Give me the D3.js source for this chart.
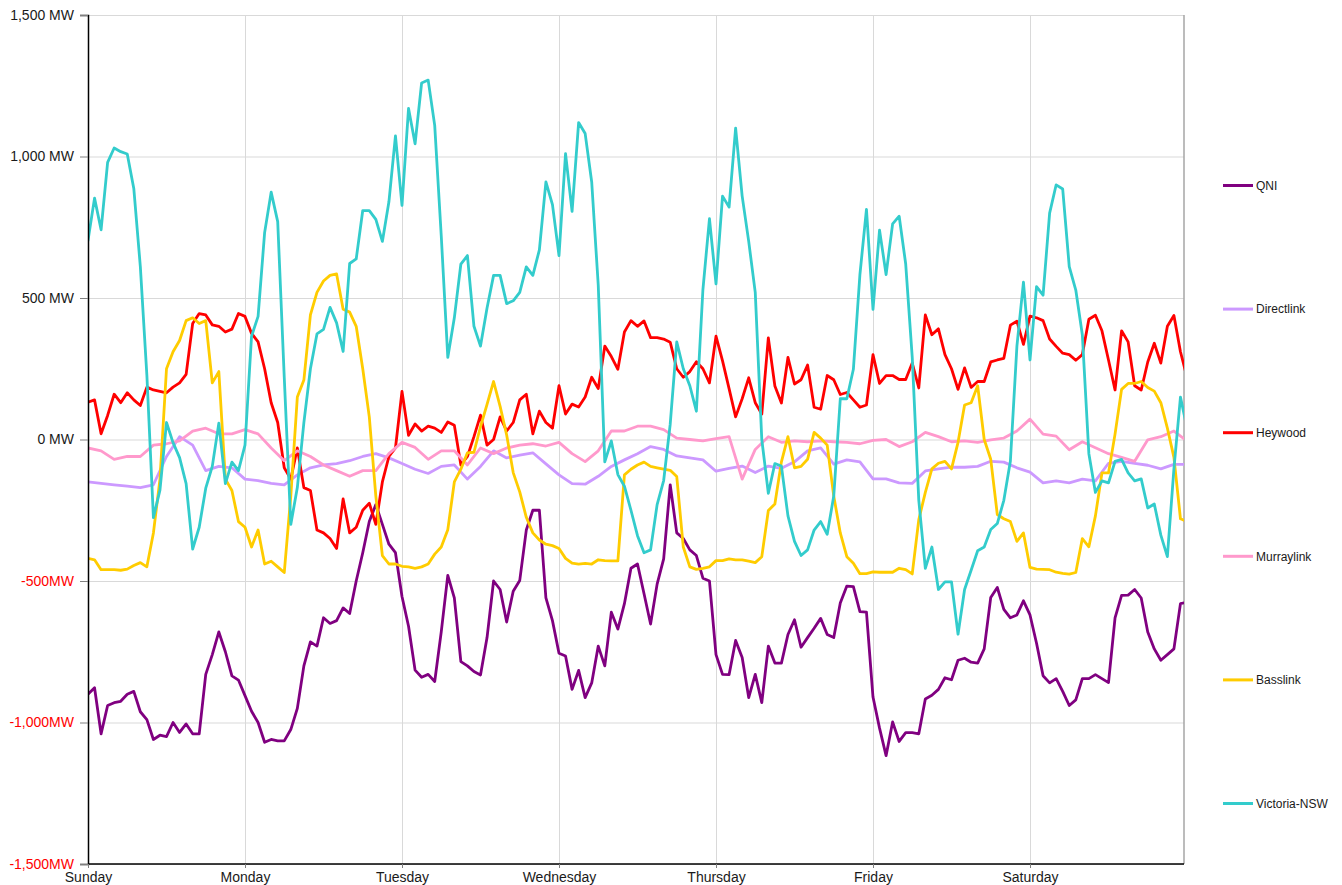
<!DOCTYPE html>
<html>
<head>
<meta charset="utf-8">
<title>Interconnector flows</title>
<script src="https://d3js.org/d3.v7.min.js"></script>
<style>
  body { margin: 0; background: #fff; }
  svg { font-family: "Liberation Sans", Arial, sans-serif; }
</style>
</head>
<body>
<svg id="chart" width="1342" height="885"></svg>
<script>
// day names, one tick every 24 hours
const days = ['Sunday', 'Monday', 'Tuesday', 'Wednesday', 'Thursday', 'Friday', 'Saturday'];
const yTicks = [-1500, -1000, -500, 0, 500, 1000, 1500];

// hourly values (MW), one row per day
const qni = [
  -900, -877, -1040, -940, -930, -925, -900, -890, -962, -990, -1060, -1045, -1050, -1000, -1035, -1005, -1040, -1040, -830, -760, -680, -750, -835, -850, -905,
  -960, -1000, -1070, -1060, -1065, -1065, -1025, -950, -800, -715, -730, -630, -650, -640, -595, -615, -500, -400, -290, -230, -300, -370, -400, -555,
  -660, -815, -840, -830, -855, -680, -480, -560, -785, -800, -820, -832, -700, -500, -530, -645, -536, -498, -320, -250, -250, -560, -640, -755,
  -765, -883, -816, -912, -860, -730, -800, -610, -670, -580, -455, -440, -545, -652, -511, -422, -160, -330, -350, -390, -410, -490, -500, -760,
  -830, -831, -710, -770, -912, -830, -930, -730, -790, -790, -689, -637, -734, -700, -667, -632, -689, -700, -578, -518, -520, -608, -610, -910,
  -1020, -1117, -998, -1067, -1036, -1036, -1040, -917, -904, -883, -842, -849, -780, -773, -787, -790, -740, -558, -523, -600, -630, -620, -570, -620,
  -720, -835, -860, -845, -890, -940, -920, -845, -845, -831, -845, -859, -630, -551, -550, -530, -560, -680, -740, -780, -760, -740, -580, -575
];

const heywood = [
  132, 140, 20, 85, 160, 130, 165, 140, 120, 185, 175, 170, 165, 185, 200, 230, 410, 445, 440, 405, 400, 380, 390, 445, 435,
  375, 345, 250, 130, 60, -100, -140, -30, -170, -180, -320, -330, -350, -385, -210, -330, -310, -250, -225, -300, -150, -60, -30, 170,
  15, 55, 30, 47, 40, 25, 62, 50, -90, -60, 10, 86, -20, 0, 80, 30, 60, 140, 160, 20, 100, 60, 40, 190,
  90, 125, 115, 150, 220, 180, 330, 293, 248, 380, 420, 400, 419, 360, 360, 355, 344, 250, 220, 240, 275, 250, 200, 365,
  278, 180, 80, 144, 218, 130, 90, 359, 189, 129, 290, 196, 211, 263, 114, 107, 226, 211, 159, 166, 140, 114, 122, 300,
  198, 226, 226, 212, 212, 270, 182, 440, 370, 391, 300, 250, 177, 253, 184, 205, 205, 274, 281, 287, 404, 418, 336, 436,
  430, 420, 355, 329, 305, 300, 280, 300, 425, 439, 384, 281, 175, 384, 345, 190, 175, 274, 340, 270, 400, 438, 310, 220
];

const vicNsw = [
  703, 853, 741, 979, 1030, 1017, 1009, 887, 611, 227, -276, -179, 60, -11, -64, -156, -387, -310, -172, -95, 58, -156, -80, -110, -20,
  365, 435, 731, 874, 770, 220, -300, -170, 60, 250, 373, 389, 467, 412, 311, 622, 638, 809, 809, 778, 700, 840, 1073, 827,
  1170, 1045, 1260, 1270, 1110, 720, 290, 430, 620, 650, 400, 330, 465, 580, 580, 480, 490, 520, 610, 580, 670, 910, 830, 650,
  1010, 806, 1120, 1081, 910, 545, -79, -5, -124, -165, -250, -340, -400, -390, -230, -145, 54, 345, 250, 190, 100, 530, 780, 550,
  860, 821, 1100, 860, 700, 520, 0, -190, -85, -94, -270, -360, -410, -390, -320, -290, -335, -200, 144, 144, 248, 583, 813, 460,
  740, 583, 762, 789, 620, 290, -215, -455, -380, -530, -503, -503, -688, -530, -462, -393, -380, -318, -297, -215, -77, 330, 556, 281,
  540, 510, 800, 900, 885, 611, 528, 370, -50, -187, -146, -153, -77, -70, -118, -146, -139, -242, -228, -338, -414, -104, 150, 40
];

const basslink = [
  -420, -425, -460, -460, -460, -462, -458, -445, -435, -450, -330, -140, 250, 310, 350, 420, 430, 410, 420, 200, 240, -140, -180, -290, -310,
  -380, -320, -440, -430, -450, -470, -200, 150, 210, 440, 520, 560, 580, 585, 460, 450, 400, 250, 80, -200, -410, -440, -440, -448,
  -450, -455, -450, -440, -405, -380, -319, -150, -105, -47, -45, 45, 124, 205, 117, 16, -117, -185, -275, -330, -355, -370, -375, -385,
  -420, -437, -440, -438, -440, -425, -428, -429, -429, -125, -105, -90, -80, -95, -100, -105, -109, -131, -380, -450, -459, -455, -450, -428,
  -428, -422, -425, -425, -430, -435, -414, -251, -228, -79, 10, -100, -95, -70, 25, 5, -20, -200, -330, -414, -437, -474, -474, -468,
  -469, -469, -469, -455, -460, -475, -283, -187, -104, -84, -77, -104, -10, 122, 130, 190, 0, -70, -265, -280, -290, -360, -330, -452,
  -458, -459, -460, -469, -473, -476, -470, -350, -379, -270, -118, -118, 19, 177, 198, 198, 205, 184, 171, 130, 40, -63, -280, -290
];

// two-hourly values (MW)
const directlink = [
  -150, -155, -160, -165, -170, -160, -60, 10, -20, -110, -95, -100, -140,
  -145, -155, -160, -125, -100, -90, -85, -75, -60, -50, -65, -85,
  -105, -120, -95, -90, -140, -95, -40, -65, -55, -47, -86, -125,
  -156, -158, -130, -95, -72, -50, -25, -35, -58, -65, -72, -112,
  -102, -94, -117, -94, -102, -79, -40, -30, -87, -72, -79, -139,
  -139, -153, -155, -111, -104, -98, -98, -95, -77, -80, -100, -115,
  -153, -146, -153, -140, -146, -84, -77, -84, -91, -104, -88, -88
];

const murraylink = [
  -30, -40, -70, -60, -60, -20, -15, -5, 30, 40, 20, 20, 35,
  20, -30, -75, -40, -60, -90, -110, -130, -110, -110, -50, -10,
  -28, -70, -40, -40, -90, -30, -50, -30, -20, -15, -23, -10,
  -50, -78, -40, 30, 30, 47, 47, 35, 5, 0, -5, 3,
  10, -140, -35, 10, -10, -5, -8, -5, -8, -10, -15, -3,
  0, -25, -8, 25, 10, -8, -5, -10, -1, 5, 30, 72,
  19, 12, -36, -8, -29, -50, -63, -77, -1, 10, 30, -5
];

const series = [
  {name: 'QNI', values: qni, step: 1, color: '#800080'},
  {name: 'Directlink', values: directlink, step: 2, color: '#cc99ff'},
  {name: 'Heywood', values: heywood, step: 1, color: '#ff0000'},
  {name: 'Murraylink', values: murraylink, step: 2, color: '#ff99cc'},
  {name: 'Basslink', values: basslink, step: 1, color: '#ffcc00'},
  {name: 'Victoria-NSW', values: vicNsw, step: 1, color: '#33cccc'}
];

const plot = {left: 88, top: 15, right: 1184, bottom: 864};
const dayWidth = 157;

const x = d3.scaleLinear().domain([0, 168]).range([plot.left, plot.left + dayWidth * 7]);
const y = d3.scaleLinear().domain([-1500, 1500]).range([plot.bottom, plot.top]);

const svg = d3.select('#chart');

svg.append('defs').append('clipPath')
  .attr('id', 'plotclip')
  .append('rect')
  .attr('x', plot.left)
  .attr('y', plot.top - 5)
  .attr('width', plot.right - plot.left)
  .attr('height', plot.bottom - plot.top + 10);

// gridlines
svg.append('g')
  .selectAll('line')
  .data(yTicks)
  .join('line')
  .attr('x1', plot.left)
  .attr('x2', plot.right)
  .attr('y1', d => y(d) + 0.5)
  .attr('y2', d => y(d) + 0.5)
  .attr('stroke', '#d9d9d9')
  .attr('stroke-width', 1);

svg.append('g')
  .selectAll('line')
  .data(days.slice(1).map((d, i) => (i + 1) * 24))
  .join('line')
  .attr('x1', d => x(d) + 0.5)
  .attr('x2', d => x(d) + 0.5)
  .attr('y1', plot.top)
  .attr('y2', plot.bottom)
  .attr('stroke', '#d9d9d9')
  .attr('stroke-width', 1);

// right border
svg.append('line')
  .attr('x1', plot.right)
  .attr('x2', plot.right)
  .attr('y1', plot.top)
  .attr('y2', plot.bottom)
  .attr('stroke', '#a6a6a6')
  .attr('stroke-width', 1.5);

// series lines
const lines = svg.append('g').attr('clip-path', 'url(#plotclip)');

series.forEach(s => {
  const line = d3.line()
    .x((d, i) => x(i * s.step))
    .y(d => y(d));

  lines.append('path')
    .attr('d', line(s.values))
    .attr('fill', 'none')
    .attr('stroke', s.color)
    .attr('stroke-width', 2.8)
    .attr('stroke-linejoin', 'round')
    .attr('stroke-linecap', 'round');
});

// Y axis
const fmt = d3.format(',');
const yAxis = d3.axisLeft(y)
  .tickValues(yTicks)
  .tickSize(8)
  .tickPadding(6)
  .tickFormat(d => d < 0 ? '-' + fmt(-d) + 'MW' : fmt(d) + ' MW');

const yg = svg.append('g')
  .attr('transform', 'translate(' + plot.left + ',0)')
  .call(yAxis);

yg.select('.domain').attr('stroke', '#000').attr('stroke-width', 1.5);
yg.selectAll('.tick line').attr('stroke', '#808080');
yg.selectAll('.tick text')
  .attr('font-size', 14)
  .attr('font-family', '"Liberation Sans", Arial, sans-serif')
  .attr('fill', d => d < 0 ? '#ff0000' : '#1a1a1a');

// X axis
const xAxis = d3.axisBottom(x)
  .tickValues(days.map((d, i) => i * 24))
  .tickSize(4)
  .tickPadding(4)
  .tickFormat((d, i) => days[i]);

const xg = svg.append('g')
  .attr('transform', 'translate(0,' + plot.bottom + ')')
  .call(xAxis);

xg.select('.domain').attr('stroke', '#000').attr('stroke-width', 1.5).attr('d', 'M' + plot.left + ',0H' + plot.right);
xg.selectAll('.tick line').attr('stroke', '#808080');
xg.selectAll('.tick text')
  .attr('font-size', 14)
  .attr('font-family', '"Liberation Sans", Arial, sans-serif')
  .attr('fill', '#1a1a1a');

// legend
const legend = svg.append('g')
  .selectAll('g')
  .data(series)
  .join('g')
  .attr('transform', (d, i) => 'translate(1223,' + (185.5 + i * 123.6) + ')');

legend.append('line')
  .attr('x1', 0)
  .attr('x2', 30)
  .attr('stroke', d => d.color)
  .attr('stroke-width', 3);

legend.append('text')
  .attr('x', 33)
  .attr('dy', '0.35em')
  .attr('font-size', 12)
  .attr('fill', '#1a1a1a')
  .text(d => d.name);
</script>
</body>
</html>
